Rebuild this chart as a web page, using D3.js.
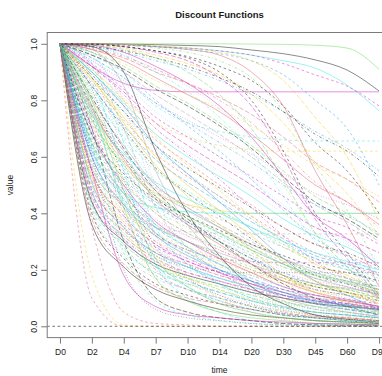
<!DOCTYPE html>
<html>
<head>
<meta charset="utf-8">
<script src="https://cdn.jsdelivr.net/npm/d3@7/dist/d3.min.js"></script>
<style>
  html, body { margin: 0; padding: 0; background: #fff; overflow: hidden; }
  svg { display: block; }
  text { font-family: "Liberation Sans", Arial, Helvetica, sans-serif; fill: #1a1a1a; }
</style>
</head>
<body>
<script>
// Time points of the discount functions
const days = ["D0", "D2", "D4", "D7", "D10", "D14", "D20", "D30", "D45", "D60", "D90"];
const yTicks = [0, 0.2, 0.4, 0.6, 0.8, 1.0];

// Discount-function values at each time point (one row per function)
const curves = [
  [1,1,0.999,0.997,0.994,0.99,0.978,0.965,0.943,0.907,0.833],
  [1,0.10,0,0,0,0,0,0,0,0,0],
  [1,0.50,0.33,0.22,0.17,0.13,0.09,0.06,0.04,0.03,0.02],
  [1,0.99,0.97,0.94,0.91,0.87,0.82,0.76,0.69,0.63,0.55],
  [1,0.88,0.55,0.22,0.10,0.05,0.02,0.01,0.005,0,0],
  [1,0.92,0.86,0.835,0.83,0.83,0.83,0.83,0.83,0.83,0.83],
  [1,0.90,0.80,0.72,0.67,0.64,0.625,0.62,0.62,0.62,0.62],
  [1,0.55,0.38,0.27,0.21,0.16,0.12,0.09,0.06,0.05,0.03],
  [1,0.85,0.70,0.56,0.47,0.39,0.31,0.24,0.18,0.15,0.11],
  [1,0.98,0.95,0.90,0.86,0.81,0.75,0.67,0.58,0.52,0.44],
  [1,1,1,1,1,1,0.999,0.998,0.995,0.985,0.91],
  [1,0.45,0.28,0.18,0.13,0.10,0.07,0.05,0.03,0.02,0.015],
  [1,0.97,0.72,0.30,0.15,0.08,0.05,0.03,0.02,0.015,0.01],
  [1,0.60,0.42,0.30,0.24,0.19,0.15,0.11,0.08,0.06,0.045],
  [1,0.995,0.985,0.96,0.93,0.89,0.82,0.72,0.58,0.47,0.32],
  [1,0.80,0.64,0.50,0.42,0.35,0.28,0.22,0.17,0.14,0.11],
  [1,0.40,0.24,0.15,0.11,0.08,0.06,0.04,0.03,0.02,0.01],
  [1,0.95,0.80,0.50,0.32,0.20,0.12,0.07,0.04,0.03,0.02],
  [1,1,0.995,0.985,0.97,0.94,0.88,0.76,0.57,0.41,0.20],
  [1,0.65,0.47,0.35,0.28,0.22,0.17,0.13,0.10,0.08,0.06],
  [1,1,0.998,0.99,0.985,0.975,0.96,0.94,0.914,0.854,0.763],
  [1,0.998,0.995,0.99,0.985,0.975,0.96,0.93,0.89,0.85,0.78],
  [1,0.88,0.75,0.62,0.53,0.45,0.37,0.29,0.22,0.18,0.13],
  [1,0.52,0.38,0.29,0.24,0.20,0.16,0.13,0.10,0.085,0.065],
  [1,0.70,0.30,0.10,0.05,0.03,0.02,0.01,0.005,0.003,0.002],
  [1,1,0.998,0.99,0.98,0.96,0.90,0.78,0.55,0.36,0.14],
  [1,0.58,0.44,0.35,0.30,0.25,0.21,0.17,0.14,0.12,0.10],
  [1,0.83,0.66,0.51,0.41,0.33,0.25,0.18,0.13,0.10,0.07],
  [1,0.48,0.33,0.25,0.20,0.17,0.13,0.10,0.08,0.07,0.05],
  [1,0.999,0.99,0.97,0.94,0.88,0.78,0.60,0.38,0.24,0.10],
  [1,0.75,0.58,0.47,0.43,0.41,0.40,0.40,0.40,0.40,0.40],
  [1,0.60,0.42,0.35,0.335,0.33,0.327,0.327,0.327,0.327,0.327],
  [1,0.60,0.20,0.06,0.03,0.02,0.01,0.005,0,0,0],
  [1,0.70,0.52,0.40,0.33,0.27,0.22,0.17,0.13,0.11,0.08],
  [1,0.97,0.92,0.85,0.79,0.72,0.64,0.55,0.46,0.40,0.32],
  [1,0.90,0.78,0.64,0.54,0.44,0.34,0.24,0.16,0.11,0.06],
  [1,0.95,0.88,0.78,0.72,0.69,0.67,0.66,0.656,0.656,0.656],
  [1,0.62,0.48,0.38,0.32,0.27,0.23,0.19,0.16,0.14,0.12],
  [1,0.82,0.50,0.26,0.16,0.10,0.07,0.05,0.035,0.03,0.02],
  [1,0.96,0.90,0.82,0.75,0.68,0.60,0.51,0.43,0.37,0.30],
  [1,0.44,0.30,0.22,0.18,0.15,0.12,0.10,0.08,0.07,0.06],
  [1,0.86,0.73,0.61,0.53,0.46,0.39,0.32,0.26,0.22,0.18],
  [1,0.56,0.36,0.24,0.18,0.13,0.09,0.06,0.04,0.03,0.02],
  [1,0.95,0.88,0.79,0.72,0.65,0.58,0.50,0.43,0.39,0.33],
  [1,0.92,0.65,0.35,0.22,0.15,0.10,0.07,0.05,0.04,0.03],
  [1,0.68,0.50,0.37,0.30,0.24,0.19,0.14,0.11,0.09,0.07],
  [1,0.18,0.005,0,0,0,0,0,0,0,0],
  [1,0.79,0.62,0.49,0.41,0.35,0.29,0.24,0.20,0.17,0.14],
  [1,0.99,0.975,0.95,0.92,0.88,0.83,0.76,0.68,0.62,0.53],
  [1,0.38,0.22,0.14,0.10,0.08,0.06,0.045,0.035,0.03,0.02],
  [1,0.78,0.42,0.17,0.09,0.05,0.03,0.02,0.01,0.008,0.005],
  [1,0.74,0.56,0.43,0.36,0.30,0.24,0.19,0.15,0.13,0.10],
  [1,0.94,0.86,0.76,0.68,0.60,0.52,0.43,0.35,0.30,0.24],
  [1,0.92,0.82,0.70,0.61,0.52,0.42,0.32,0.23,0.17,0.10],
  [1,0.53,0.40,0.32,0.27,0.23,0.19,0.16,0.14,0.12,0.10],
  [1,0.98,0.85,0.55,0.36,0.24,0.16,0.10,0.07,0.05,0.035],
  [1,1,0.99,0.975,0.95,0.90,0.80,0.62,0.40,0.26,0.11],
  [1,0.47,0.30,0.20,0.15,0.11,0.08,0.055,0.04,0.03,0.02],
  [1,0.84,0.69,0.56,0.48,0.41,0.35,0.28,0.23,0.20,0.16],
  [1,0.63,0.45,0.33,0.26,0.20,0.15,0.11,0.08,0.06,0.04],
  [1,0.62,0.47,0.42,0.405,0.40,0.40,0.40,0.40,0.40,0.40],
  [1,0.93,0.84,0.74,0.67,0.60,0.53,0.46,0.39,0.35,0.29],
  [1,0.66,0.28,0.10,0.05,0.03,0.02,0.01,0.008,0.006,0.004],
  [1,0.57,0.42,0.32,0.26,0.22,0.18,0.14,0.11,0.09,0.07],
  [1,0.81,0.63,0.48,0.38,0.30,0.22,0.15,0.10,0.07,0.04],
  [1,0.98,0.94,0.88,0.82,0.76,0.68,0.59,0.50,0.44,0.36],
  [1,0.66,0.53,0.44,0.38,0.33,0.28,0.23,0.19,0.17,0.14],
  [1,0.86,0.58,0.33,0.22,0.15,0.10,0.07,0.05,0.04,0.03],
  [1,0.42,0.27,0.19,0.15,0.12,0.09,0.07,0.05,0.04,0.03],
  [1,0.92,0.83,0.72,0.64,0.57,0.50,0.42,0.35,0.31,0.26],
  [1,0.87,0.74,0.60,0.50,0.41,0.32,0.23,0.16,0.12,0.08],
  [1,0.72,0.55,0.44,0.37,0.31,0.26,0.21,0.17,0.15,0.12],
  [1,0.55,0.35,0.25,0.21,0.195,0.19,0.19,0.19,0.19,0.19],
  [1,0.74,0.40,0.20,0.13,0.09,0.06,0.04,0.03,0.025,0.02],
  [1,0.995,0.98,0.95,0.90,0.82,0.70,0.52,0.33,0.21,0.09],
  [1,0.51,0.35,0.26,0.21,0.17,0.14,0.11,0.09,0.075,0.06],
  [1,0.82,0.67,0.55,0.47,0.41,0.35,0.29,0.24,0.21,0.17],
  [1,0.61,0.46,0.36,0.30,0.25,0.20,0.16,0.13,0.11,0.09],
  [1,0.97,0.93,0.87,0.82,0.77,0.71,0.64,0.57,0.52,0.46],
  [1,0.93,0.70,0.42,0.28,0.19,0.13,0.09,0.06,0.05,0.035],
  [1,0.36,0.21,0.13,0.09,0.06,0.04,0.03,0.02,0.015,0.01],
  [1,0.35,0.05,0.01,0.005,0,0,0,0,0,0],
  [1,0.99,0.96,0.91,0.85,0.77,0.66,0.50,0.33,0.23,0.12],
  [1,0.89,0.76,0.63,0.54,0.46,0.38,0.30,0.24,0.20,0.15],
  [1,0.69,0.49,0.36,0.28,0.22,0.16,0.12,0.085,0.065,0.045],
  [1,0.55,0.18,0.07,0.04,0.03,0.02,0.015,0.01,0.008,0.005],
  [1,0.54,0.41,0.33,0.28,0.24,0.20,0.17,0.145,0.13,0.11],
  [1,0.91,0.81,0.70,0.62,0.55,0.48,0.40,0.33,0.29,0.23],
  [1,0.78,0.60,0.46,0.37,0.30,0.24,0.18,0.14,0.12,0.09],
  [1,0.46,0.32,0.24,0.19,0.16,0.13,0.10,0.085,0.075,0.06],
  [1,0.80,0.48,0.24,0.14,0.08,0.05,0.03,0.02,0.015,0.01],
  [1,0.999,0.997,0.99,0.98,0.965,0.94,0.89,0.80,0.70,0.50],
  [1,0.59,0.40,0.28,0.21,0.16,0.12,0.08,0.06,0.045,0.03],
  [1,0.70,0.48,0.33,0.27,0.24,0.23,0.225,0.225,0.225,0.225],
  [1,0.91,0.80,0.67,0.57,0.48,0.39,0.30,0.22,0.18,0.12],
  [1,0.76,0.60,0.48,0.41,0.35,0.29,0.24,0.19,0.16,0.13],
  [1,0.998,0.99,0.975,0.955,0.92,0.87,0.78,0.65,0.55,0.40],
  [1,0.90,0.62,0.32,0.18,0.10,0.05,0.025,0.01,0.005,0.002],
  [1,0.64,0.50,0.41,0.35,0.30,0.25,0.21,0.18,0.16,0.13],
  [1,0.85,0.71,0.59,0.51,0.44,0.37,0.31,0.25,0.22,0.19],
  [1,0.90,0.79,0.68,0.60,0.53,0.46,0.38,0.32,0.28,0.22],
  [1,0.49,0.36,0.28,0.23,0.19,0.16,0.13,0.11,0.095,0.08],
  [1,0.72,0.36,0.16,0.09,0.06,0.04,0.03,0.02,0.015,0.01],
  [1,0.41,0.25,0.17,0.13,0.10,0.075,0.055,0.04,0.035,0.025],
  [1,0.96,0.91,0.84,0.78,0.71,0.63,0.53,0.44,0.38,0.31],
  [1,0.77,0.59,0.45,0.36,0.29,0.22,0.16,0.12,0.095,0.07],
  [1,0.67,0.51,0.40,0.33,0.28,0.23,0.18,0.15,0.13,0.10],
  [1,0.96,0.78,0.46,0.27,0.15,0.08,0.04,0.02,0.01,0.005],
  [1,0.99,0.96,0.90,0.83,0.74,0.62,0.46,0.30,0.21,0.11],
  [1,0.55,0.39,0.29,0.23,0.19,0.15,0.12,0.095,0.08,0.065],
  [1,0.88,0.72,0.57,0.46,0.36,0.27,0.18,0.12,0.085,0.05],
  [1,0.71,0.58,0.49,0.43,0.38,0.33,0.28,0.24,0.21,0.18],
  [1,0.84,0.52,0.28,0.17,0.11,0.07,0.045,0.03,0.025,0.02],
  [1,0.985,0.955,0.91,0.86,0.80,0.72,0.62,0.51,0.44,0.35],
  [1,0.43,0.29,0.21,0.17,0.14,0.11,0.085,0.07,0.06,0.05],
  [1,0.60,0.43,0.32,0.25,0.20,0.16,0.12,0.09,0.075,0.055],
  [1,0.64,0.26,0.09,0.04,0.02,0.01,0.005,0.003,0.002,0.001],
  [1,0.94,0.87,0.79,0.73,0.67,0.61,0.54,0.47,0.43,0.38],
  [1,0.50,0.37,0.30,0.25,0.21,0.18,0.15,0.12,0.11,0.09],
  [1,0.78,0.62,0.50,0.42,0.36,0.30,0.24,0.20,0.17,0.13],
  [1,0.99,0.90,0.62,0.40,0.25,0.14,0.08,0.04,0.025,0.015],
  [1,0.89,0.78,0.66,0.58,0.50,0.43,0.35,0.29,0.25,0.20],
  [1,0.39,0.26,0.19,0.15,0.125,0.10,0.08,0.065,0.055,0.045],
  [1,0.65,0.52,0.43,0.37,0.32,0.27,0.22,0.185,0.16,0.14],
  [1,0.76,0.44,0.22,0.14,0.09,0.06,0.04,0.03,0.02,0.015],
  [1,0.995,0.97,0.92,0.86,0.78,0.67,0.53,0.39,0.31,0.21],
  [1,0.52,0.34,0.23,0.17,0.13,0.095,0.07,0.05,0.04,0.03],
  [1,0.58,0.45,0.37,0.32,0.28,0.24,0.20,0.17,0.15,0.13],
  [1,0.88,0.76,0.64,0.56,0.49,0.42,0.35,0.29,0.26,0.21],
  [1,0.47,0.34,0.26,0.22,0.18,0.15,0.12,0.10,0.09,0.07],
  [1,0.73,0.57,0.46,0.39,0.33,0.27,0.22,0.18,0.155,0.12],
  [1,0.97,0.90,0.80,0.71,0.62,0.52,0.41,0.31,0.25,0.18],
  [1,0.62,0.44,0.33,0.27,0.22,0.18,0.14,0.11,0.095,0.075],
  [1,0.44,0.31,0.23,0.19,0.16,0.13,0.11,0.09,0.08,0.065],
  [1,1,0.998,0.993,0.985,0.97,0.94,0.87,0.74,0.60,0.37],
  [1,0.56,0.43,0.35,0.30,0.26,0.22,0.18,0.15,0.135,0.115],
  [1,0.68,0.54,0.45,0.39,0.34,0.29,0.25,0.21,0.19,0.16],
  [1,0.53,0.37,0.27,0.22,0.18,0.14,0.11,0.085,0.07,0.055],
  [1,0.64,0.47,0.36,0.30,0.25,0.20,0.16,0.13,0.11,0.085],
  [1,0.48,0.31,0.21,0.16,0.12,0.09,0.065,0.05,0.04,0.03],
  [1,0.75,0.61,0.51,0.45,0.40,0.35,0.30,0.26,0.23,0.20]
];

// Base colour palette and line types, recycled across the functions
const palette = ["#000000", "#DF536B", "#61D04F", "#2297E6", "#28E2E5", "#CD0BBC", "#F5C710", "#9E9E9E"];
const dashes = [null, "2.6,2.6", "0.7,2", "0.7,2,2.6,2", "4.6,2"];

const width = 382, height = 376;
const plot = { left: 47.2, right: 391.8, top: 32.5, bottom: 337.6 };

const svg = d3.select("body").append("svg")
  .attr("width", width)
  .attr("height", height);

const x = d3.scaleLinear()
  .domain([-0.4, days.length - 1 + 0.4])
  .range([plot.left, plot.right]);

const y = d3.scaleLinear()
  .domain([-0.04, 1.04])
  .range([plot.bottom, plot.top]);

svg.append("clipPath").attr("id", "plot-clip")
  .append("rect")
  .attr("x", plot.left).attr("y", plot.top)
  .attr("width", plot.right - plot.left)
  .attr("height", plot.bottom - plot.top);

const lines = svg.append("g").attr("clip-path", "url(#plot-clip)");

const line = d3.line()
  .x((d, i) => x(i))
  .y(d => y(d))
  .curve(d3.curveMonotoneX);

lines.selectAll("path.fn")
  .data(curves)
  .join("path")
  .attr("class", "fn")
  .attr("d", line)
  .attr("fill", "none")
  .attr("stroke", (d, i) => palette[i % palette.length])
  .attr("stroke-width", 0.65)
  .attr("stroke-opacity", 0.7)
  .attr("stroke-dasharray", (d, i) => dashes[i % dashes.length]);

// Reference line at zero
lines.append("line")
  .attr("x1", plot.left).attr("x2", plot.right)
  .attr("y1", y(0)).attr("y2", y(0))
  .attr("stroke", "#555")
  .attr("stroke-width", 0.8)
  .attr("stroke-dasharray", "2.6,2.6");

// Plot frame
svg.append("rect")
  .attr("x", plot.left).attr("y", plot.top)
  .attr("width", plot.right - plot.left)
  .attr("height", plot.bottom - plot.top)
  .attr("fill", "none")
  .attr("stroke", "#7a7a7a")
  .attr("stroke-width", 1);

// Bottom axis
const xAxis = svg.append("g")
  .attr("transform", `translate(0,${plot.bottom})`)
  .call(d3.axisBottom(x)
    .tickValues(d3.range(days.length))
    .tickFormat(i => days[i])
    .tickSize(6)
    .tickPadding(5));
xAxis.select(".domain").remove();
xAxis.selectAll(".tick line").attr("stroke", "#7a7a7a");
xAxis.selectAll(".tick text")
  .style("font-size", "8.5px")
  .style("font-family", "'Liberation Sans', Arial, sans-serif")
  .attr("fill", "#1a1a1a");

// Left axis with upright-rotated labels
const yAxis = svg.append("g")
  .attr("transform", `translate(${plot.left},0)`)
  .call(d3.axisLeft(y)
    .tickValues(yTicks)
    .tickFormat(d3.format(".1f"))
    .tickSize(6));
yAxis.select(".domain").remove();
yAxis.selectAll(".tick line").attr("stroke", "#7a7a7a");
yAxis.selectAll(".tick text")
  .attr("transform", "rotate(-90)")
  .attr("x", 0)
  .attr("y", -10.5)
  .attr("dy", 0)
  .attr("text-anchor", "middle")
  .style("font-size", "8.5px")
  .style("font-family", "'Liberation Sans', Arial, sans-serif")
  .attr("fill", "#1a1a1a");

// Titles
svg.append("text")
  .attr("x", (plot.left + plot.right) / 2)
  .attr("y", 18)
  .attr("text-anchor", "middle")
  .style("font-size", "9.5px")
  .style("font-weight", "bold")
  .text("Discount Functions");

svg.append("text")
  .attr("x", (plot.left + plot.right) / 2)
  .attr("y", 373)
  .attr("text-anchor", "middle")
  .style("font-size", "8.5px")
  .text("time");

svg.append("text")
  .attr("transform", `translate(13,${(plot.top + plot.bottom) / 2}) rotate(-90)`)
  .attr("text-anchor", "middle")
  .style("font-size", "8.5px")
  .text("value");
</script>
</body>
</html>
